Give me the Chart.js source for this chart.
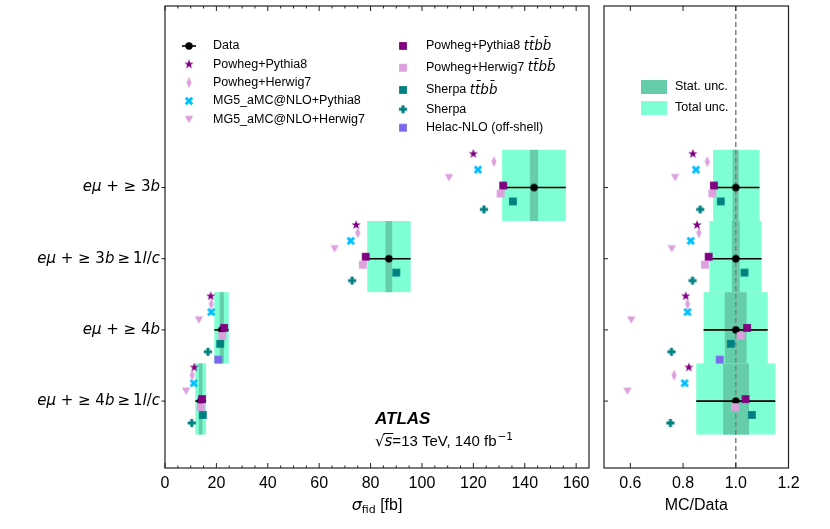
<!DOCTYPE html>
<html><head><meta charset="utf-8">
<script src="https://cdn.jsdelivr.net/npm/chart.js@4"></script>
<style>
html,body{margin:0;padding:0;background:#fff;}
#wrap{position:relative;width:830px;height:529px;overflow:hidden;}
#c1box{position:absolute;left:0;top:0;width:600px;height:529px;}
#c2box{position:absolute;left:595px;top:0;width:235px;height:529px;}
</style></head><body>
<div id="wrap"><div id="c1box"><canvas id="c1" width="600" height="529"></canvas></div><div id="c2box"><canvas id="c2" width="235" height="529"></canvas></div></div>
<script>
// ---------------- data ----------------
const categories = ["eμ + ≥ 3b", "eμ + ≥ 3b\u2009≥\u20091l/c", "eμ + ≥ 4b", "eμ + ≥ 4b\u2009≥\u20091l/c"];
const xTicksLeft = [0, 20, 40, 60, 80, 100, 120, 140, 160];
const xTicksRight = [0.6, 0.8, 1.0, 1.2];

// measured fiducial cross sections [fb]
const dataXsec   = [143.6, 87.1, 22.1, 13.9];
const totLo      = [131.2, 78.7, 19.2, 11.8];
const totHi      = [156.0, 95.6, 24.8, 16.0];
const statLo     = [142.0, 85.8, 21.3, 13.2];
const statHi     = [145.2, 88.4, 22.9, 14.6];

// predictions [fb]
const powPy8     = [120.0, 74.4, 17.8, 11.4];
const powHw7     = [128.0, 75.0, 18.0, 10.6];
const mg5Py8     = [121.8, 72.3, 18.0, 11.2];
const mg5Hw7     = [110.5, 66.0, 13.2, 8.2];
const powPy8ttbb = [131.6, 78.1, 23.0, 14.4];
const powHw7ttbb = [130.6, 77.0, 22.3, 13.9];
const sherpaTtbb = [135.4, 90.0, 21.5, 14.7];
const sherpa     = [124.1, 72.8, 16.7, 10.4];
const helac      = [null, null, 20.7, null];

// ratios MC/Data
const rData       = [1.0, 1.0, 1.0, 1.0];
const rTotLo      = [0.914, 0.900, 0.878, 0.850];
const rTotHi      = [1.090, 1.098, 1.121, 1.150];
const rStatLo     = [0.988, 0.985, 0.958, 0.952];
const rStatHi     = [1.011, 1.015, 1.041, 1.050];
const rPowPy8     = [0.837, 0.853, 0.810, 0.822];
const rPowHw7     = [0.892, 0.860, 0.817, 0.766];
const rMg5Py8     = [0.849, 0.829, 0.817, 0.806];
const rMg5Hw7     = [0.770, 0.757, 0.603, 0.589];
const rPowPy8ttbb = [0.917, 0.897, 1.043, 1.037];
const rPowHw7ttbb = [0.911, 0.883, 1.019, 0.997];
const rSherpaTtbb = [0.943, 1.033, 0.981, 1.061];
const rSherpa     = [0.865, 0.836, 0.756, 0.752];
const rHelac      = [null, null, 0.939, null];

// ---------------- styles ----------------
const TTBB = "tt\u0304bb\u0304";
function mk(type, color){
  const S=18, c=document.createElement('canvas'); c.width=S; c.height=S;
  const g=c.getContext('2d'); const m=S/2; g.fillStyle=color; g.strokeStyle=color;
  g.beginPath();
  if(type==='star'){ for(let i=0;i<10;i++){const r=i%2?2.0:4.9; const a=-Math.PI/2+i*Math.PI/5; g.lineTo(m+r*Math.cos(a), m+r*Math.sin(a));} g.closePath(); g.fill(); }
  else if(type==='thin_diamond'){ g.moveTo(m,m-5.6); g.lineTo(m+2.6,m); g.lineTo(m,m+5.6); g.lineTo(m-2.6,m); g.closePath(); g.fill(); }
  else if(type==='X'){ g.lineWidth=3.0; g.moveTo(m-3.2,m-3.2); g.lineTo(m+3.2,m+3.2); g.moveTo(m+3.2,m-3.2); g.lineTo(m-3.2,m+3.2); g.stroke(); }
  else if(type==='tri_down'){ g.moveTo(m-4.2,m-3.4); g.lineTo(m+4.2,m-3.4); g.lineTo(m,m+3.8); g.closePath(); g.fill(); }
  else if(type==='square'){ g.rect(m-3.9,m-3.9,7.8,7.8); g.fill(); }
  else if(type==='plus'){ g.rect(m-4.1,m-1.5,8.2,3); g.rect(m-1.5,m-4.1,3,8.2); g.fill(); }
  else if(type==='circle'){ g.arc(m,m,3.7,0,Math.PI*2); g.fill(); }
  return c;
}
const models = [
  {label:"Powheg+Pythia8",        mark:'star',         color:'#800080', off: 0.474, xs:powPy8,     rs:rPowPy8},
  {label:"Powheg+Herwig7",        mark:'thin_diamond', color:'#DDA0DD', off: 0.363, xs:powHw7,     rs:rPowHw7},
  {label:"MG5_aMC@NLO+Pythia8",   mark:'X',            color:'#00BFFF', off: 0.251, xs:mg5Py8,     rs:rMg5Py8},
  {label:"MG5_aMC@NLO+Herwig7",   mark:'tri_down',     color:'#DDA0DD', off: 0.140, xs:mg5Hw7,     rs:rMg5Hw7},
  {label:"Powheg+Pythia8 "+TTBB,  mark:'square',       color:'#800080', off: 0.028, xs:powPy8ttbb, rs:rPowPy8ttbb},
  {label:"Powheg+Herwig7 "+TTBB,  mark:'square',       color:'#DDA0DD', off:-0.084, xs:powHw7ttbb, rs:rPowHw7ttbb},
  {label:"Sherpa "+TTBB,          mark:'square',       color:'#008080', off:-0.195, xs:sherpaTtbb, rs:rSherpaTtbb},
  {label:"Sherpa",                mark:'plus',         color:'#008080', off:-0.307, xs:sherpa,     rs:rSherpa},
  {label:"Helac-NLO (off-shell)", mark:'square',       color:'#7B68EE', off:-0.418, xs:helac,      rs:rHelac}
];
models.forEach(m=>m.img=mk(m.mark,m.color));
const dataImg = mk('circle','#000');
const rowY = categories.map((_, i) => categories.length - i);
const BOX_UP = 0.53, BOX_DN = 0.47;
const TOT_COL = '#7FFFD4', STAT_COL = '#66CDAA';
const TICK_FONT = '16px "Liberation Sans", Arial, sans-serif';

function buildDatasets(key, dataVals){
  const ds = models.map(m=>({
    label:m.label,
    data: m[key].map((v,i)=> v==null?null:{x:v, y:rowY[i]+m.off}).filter(p=>p),
    pointStyle:m.img, pointRadius:5, showLine:false
  }));
  ds.push({label:'Data', data: dataVals.map((v,i)=>({x:v,y:rowY[i]})), pointStyle:dataImg, pointRadius:4, showLine:false});
  return ds;
}

function bandsPlugin(lo,hi,slo,shi,dashAt){
  return {id:'bands', beforeDatasetsDraw(chart){
    const {ctx, scales:{x,y}, chartArea:a} = chart;
    ctx.save();
    ctx.beginPath(); ctx.rect(a.left,a.top,a.right-a.left,a.bottom-a.top); ctx.clip();
    rowY.forEach((r,i)=>{
      const yt=y.getPixelForValue(r+BOX_UP), yb=y.getPixelForValue(r-BOX_DN);
      const x0=x.getPixelForValue(lo[i]), x1=x.getPixelForValue(hi[i]);
      ctx.fillStyle=TOT_COL; ctx.fillRect(x0,yt,x1-x0,yb-yt);
      const s0=x.getPixelForValue(slo[i]), s1=x.getPixelForValue(shi[i]);
      ctx.fillStyle=STAT_COL; ctx.fillRect(s0,yt,s1-s0,yb-yt);
    });
    if(dashAt!=null){
      const xd=x.getPixelForValue(dashAt);
      ctx.strokeStyle='#808080'; ctx.lineWidth=1.5; ctx.setLineDash([5,3]);
      ctx.beginPath(); ctx.moveTo(xd,a.top); ctx.lineTo(xd,a.bottom); ctx.stroke(); ctx.setLineDash([]);
    }
    ctx.strokeStyle='#000'; ctx.lineWidth=1.6;
    rowY.forEach((r,i)=>{
      const yy=y.getPixelForValue(r);
      ctx.beginPath(); ctx.moveTo(x.getPixelForValue(lo[i]),yy); ctx.lineTo(x.getPixelForValue(hi[i]),yy); ctx.stroke();
    });
    ctx.restore();
  }};
}

function drawFrame(chart, majors, minors, yTickIn, yTickOut){
  const {ctx, scales:{x,y}, chartArea:a} = chart;
  ctx.save();
  ctx.strokeStyle='#222'; ctx.lineWidth=1.2;
  ctx.strokeRect(a.left, a.top, a.right-a.left, a.bottom-a.top);
  ctx.lineWidth=1;
  ctx.beginPath();
  majors.forEach(v=>{const px=x.getPixelForValue(v); ctx.moveTo(px,a.bottom); ctx.lineTo(px,a.bottom-5); ctx.moveTo(px,a.top); ctx.lineTo(px,a.top+5);});
  minors.forEach(v=>{const px=x.getPixelForValue(v); ctx.moveTo(px,a.bottom); ctx.lineTo(px,a.bottom-2.5); ctx.moveTo(px,a.top); ctx.lineTo(px,a.top+2.5);});
  rowY.forEach(r=>{const py=y.getPixelForValue(r); ctx.moveTo(a.left-yTickOut,py); ctx.lineTo(a.left+yTickIn,py);});
  ctx.stroke();
  ctx.restore();
}

function drawMath(ctx, text, xRight, y, size){
  const segs=[];
  for(const ch of text){
    const it=/[a-zA-Zμ]/.test(ch);
    if(segs.length && segs[segs.length-1].it===it) segs[segs.length-1].t+=ch; else segs.push({t:ch,it});
  }
  const fnt=s=>(s.it?'italic ':'')+size+'px "DejaVu Sans", sans-serif';
  let w=0; segs.forEach(s=>{ctx.font=fnt(s); s.w=ctx.measureText(s.t).width; w+=s.w;});
  let xx=xRight-w;
  ctx.textBaseline='middle'; ctx.textAlign='left'; ctx.fillStyle='#000';
  segs.forEach(s=>{ctx.font=fnt(s); ctx.fillText(s.t,xx,y); xx+=s.w;});
}

function drawLegendText(ctx, label, x, y){
  ctx.fillStyle='#000'; ctx.textBaseline='middle'; ctx.textAlign='left';
  const k=label.indexOf(TTBB);
  const nf='12.5px "Liberation Sans", Arial, sans-serif';
  if(k<0){ ctx.font=nf; ctx.fillText(label,x,y); return; }
  const head=label.slice(0,k);
  ctx.font=nf; ctx.fillText(head,x,y); const w=ctx.measureText(head).width;
  ctx.font='italic 13.5px "DejaVu Sans", sans-serif'; ctx.fillText(TTBB,x+w,y);
}

const leftDeco = {id:'leftDeco', afterDraw(chart){
  const {ctx, scales:{x,y}, chartArea:a} = chart;
  const minors=[]; for(let v=5; v<165; v+=5){ if(v%20) minors.push(v); }
  drawFrame(chart, xTicksLeft, minors, 0.5, 3.5);
  ctx.save();
  categories.forEach((c,i)=> drawMath(ctx, c, 160, y.getPixelForValue(rowY[i]), 15));
  // axis title
  ctx.fillStyle='#000'; ctx.textBaseline='alphabetic'; ctx.textAlign='left';
  const tx = (a.left+a.right)/2;
  ctx.font='italic 16px "DejaVu Sans", sans-serif'; const wS=ctx.measureText('σ').width;
  ctx.font='11px "DejaVu Sans", sans-serif'; const wF=ctx.measureText('fid').width;
  ctx.font=TICK_FONT; const wB=ctx.measureText(' [fb]').width;
  let sx = tx-(wS+wF+wB)/2, by=510;
  ctx.font='italic 16px "DejaVu Sans", sans-serif'; ctx.fillText('σ',sx,by); sx+=wS;
  ctx.font='11px "DejaVu Sans", sans-serif'; ctx.fillText('fid',sx,by+3); sx+=wF;
  ctx.font=TICK_FONT; ctx.fillText(' [fb]',sx,by);
  // legend column 1 (Data + first four models)
  const col1=[{img:dataImg,label:'Data',data:true}].concat(models.slice(0,4));
  const ys1=[46,64.3,82.6,101,119.3];
  col1.forEach((m,i)=>{
    if(m.data){ ctx.strokeStyle='#000'; ctx.lineWidth=1.6; ctx.beginPath(); ctx.moveTo(182,ys1[i]); ctx.lineTo(196,ys1[i]); ctx.stroke(); }
    ctx.drawImage(m.img, 189-9, ys1[i]-9);
    drawLegendText(ctx, m.label, 213, ys1[i]);
  });
  const col2=models.slice(4);
  const ys2=[46,67.7,90,109.3,127.7];
  col2.forEach((m,i)=>{ ctx.drawImage(m.img, 403-9, ys2[i]-9); drawLegendText(ctx, m.label, 426, ys2[i]); });
  // ATLAS label
  ctx.textBaseline='alphabetic';
  ctx.font='bold italic 17px "Liberation Sans", Arial, sans-serif'; ctx.fillText('ATLAS',375,424);
  let lx=375; const ly=446;
  ctx.font='15px "DejaVu Sans", sans-serif'; ctx.fillText('√',lx,ly); lx+=ctx.measureText('√').width;
  ctx.font='italic 15px "DejaVu Sans", sans-serif'; const ws=ctx.measureText('s').width; ctx.fillText('s',lx,ly);
  ctx.strokeStyle='#000'; ctx.lineWidth=1; ctx.beginPath(); ctx.moveTo(lx-1,ly-12.5); ctx.lineTo(lx+ws+1,ly-12.5); ctx.stroke();
  lx+=ws;
  ctx.font='15px "Liberation Sans", Arial, sans-serif'; const rest='=13 TeV, 140 fb'; ctx.fillText(rest,lx,ly); lx+=ctx.measureText(rest).width;
  ctx.font='10.5px "DejaVu Sans", sans-serif'; ctx.fillText('−1',lx+1,ly-6);
  ctx.restore();
}};

const rightDeco = {id:'rightDeco', afterDraw(chart){
  const {ctx, chartArea:a} = chart;
  drawFrame(chart, xTicksRight, [], 4, 0);
  ctx.save();
  ctx.fillStyle='#000'; ctx.textBaseline='alphabetic'; ctx.textAlign='center';
  ctx.font=TICK_FONT; ctx.fillText('MC/Data',(a.left+a.right)/2,510);
  const lx=641-595;
  ctx.fillStyle=STAT_COL; ctx.fillRect(lx,80,26,14);
  ctx.fillStyle=TOT_COL; ctx.fillRect(lx,101,26,14);
  ctx.fillStyle='#000'; ctx.textAlign='left'; ctx.textBaseline='middle';
  ctx.font='12.5px "Liberation Sans", Arial, sans-serif';
  ctx.fillText('Stat. unc.',675-595,87); ctx.fillText('Total unc.',675-595,108);
  ctx.restore();
}};

function baseOptions(xmin,xmax,ticks,ywidth,padRight){
  return {
    responsive:false, animation:false, events:[],
    layout:{padding:{top:3,right:padRight,left:0,bottom:0}},
    plugins:{legend:{display:false}, tooltip:{enabled:false}},
    scales:{
      x:{type:'linear', min:xmin, max:xmax,
         afterBuildTicks:s=>{s.ticks=ticks.map(v=>({value:v}));},
         afterFit:s=>{s.height=61;},
         ticks:{font:{family:'"Liberation Sans", Arial, sans-serif',size:16}, color:'#000', padding:6, maxRotation:0, autoSkip:false,
                callback:v=> (xmax<5? v.toFixed(1) : String(v))},
         grid:{display:false, drawTicks:false}, border:{display:false}},
      y:{type:'linear', min:0.06, max:6.55,
         afterFit:s=>{s.width=ywidth;},
         ticks:{display:false}, grid:{display:false, drawTicks:false}, border:{display:false}}
    }
  };
}

new Chart(document.getElementById('c1'), {
  type:'scatter',
  data:{datasets: buildDatasets('xs', dataXsec)},
  options: baseOptions(0,165,xTicksLeft,165,11),
  plugins:[bandsPlugin(totLo,totHi,statLo,statHi,null), leftDeco]
});
new Chart(document.getElementById('c2'), {
  type:'scatter',
  data:{datasets: buildDatasets('rs', rData)},
  options: baseOptions(0.5,1.2,xTicksRight,9,41.5),
  plugins:[bandsPlugin(rTotLo,rTotHi,rStatLo,rStatHi,1.0), rightDeco]
});
</script>
</body></html>
